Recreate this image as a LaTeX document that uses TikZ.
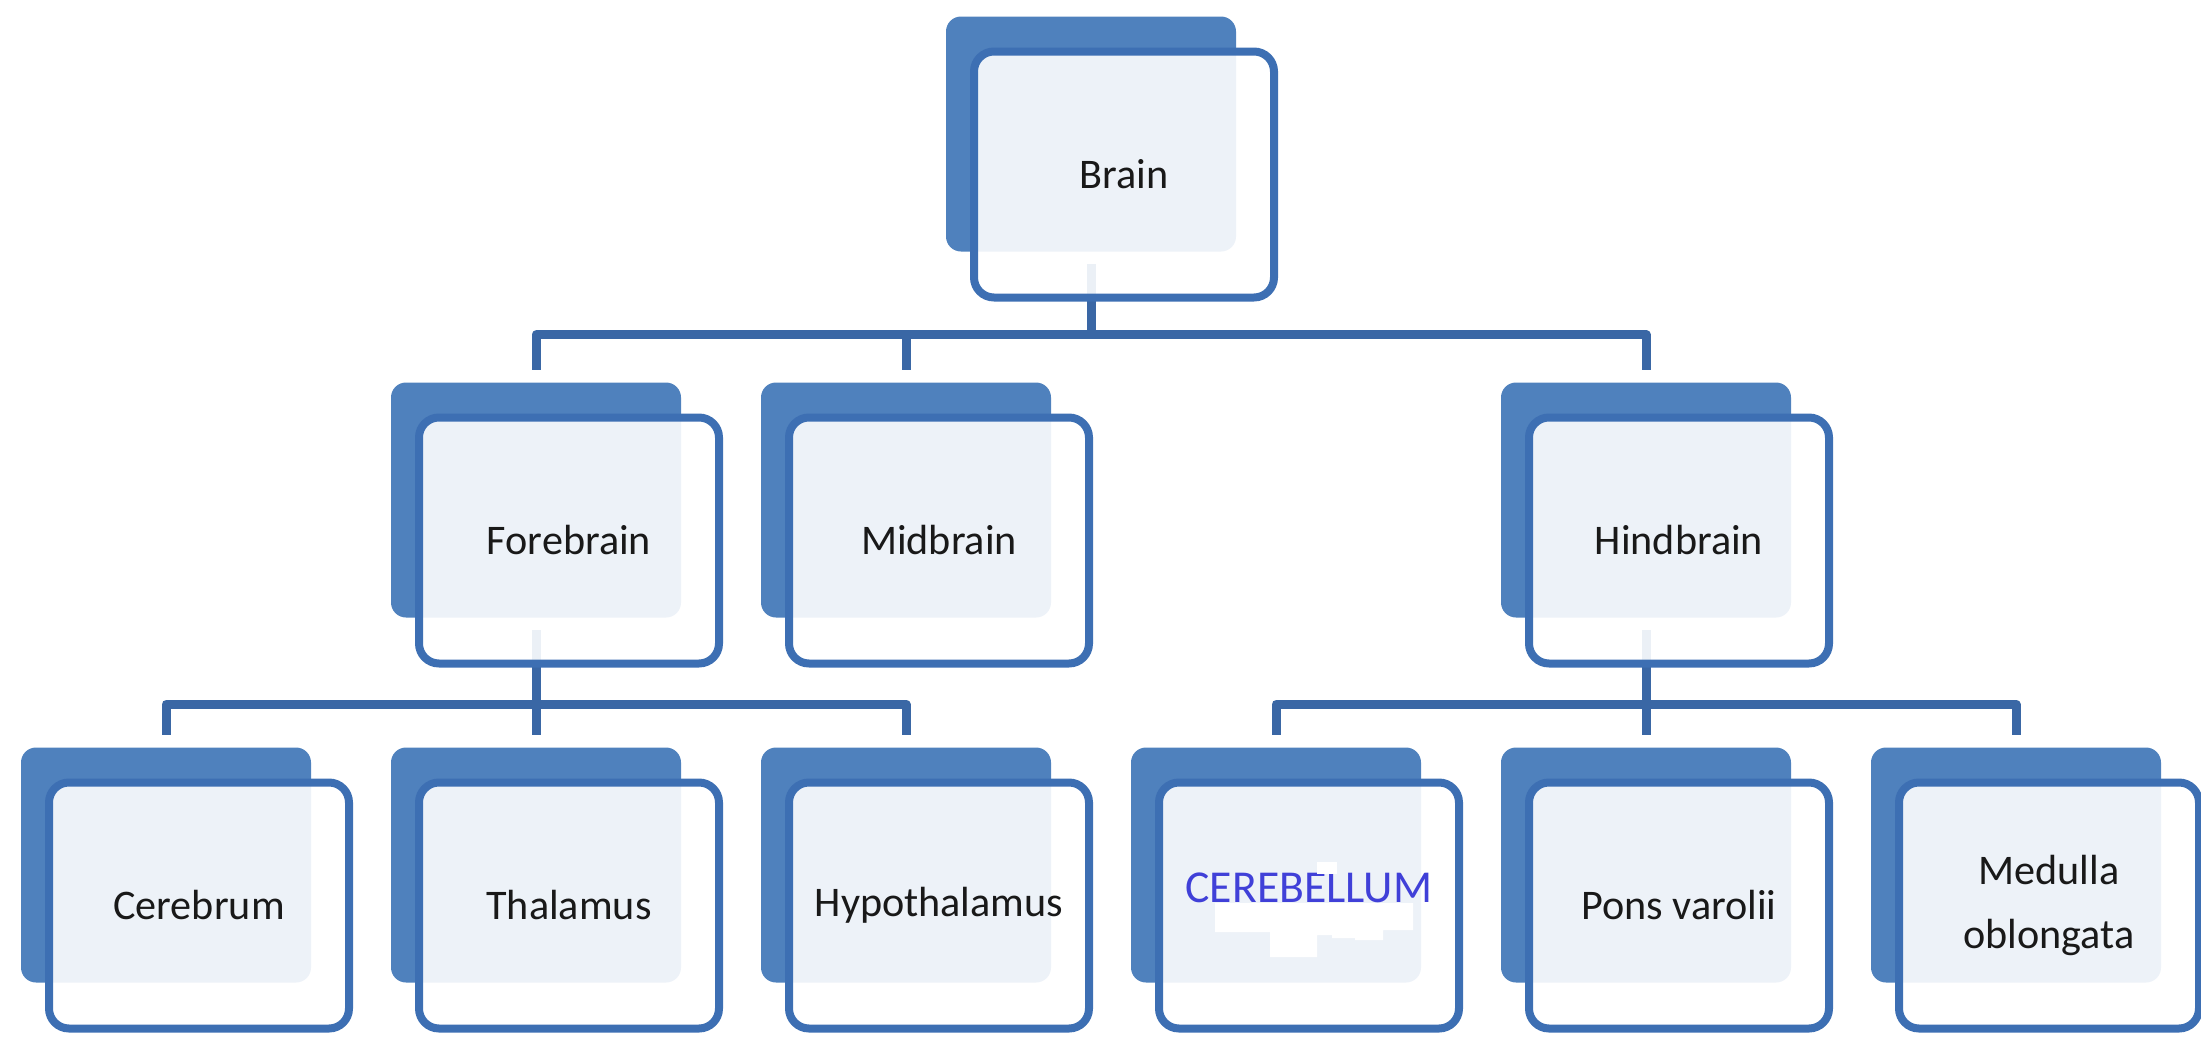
\documentclass[tikz,border=0pt]{standalone}
\usepackage{fontspec}
\setmainfont{Carlito}
\usetikzlibrary{positioning}
\definecolor{boxblue}{HTML}{4F81BD}
\definecolor{lineblue}{HTML}{3D6FB3}
\definecolor{linkblue}{HTML}{3A67A5}
\definecolor{cerebblue}{HTML}{4040D8}

\begin{document}
\begin{tikzpicture}
    \tikzstyle{back}=[rectangle, rounded corners=0.15cm, fill=boxblue, minimum width=2.9cm, minimum height=2.35cm, inner sep=0pt]
    \tikzstyle{front}=[rectangle, rounded corners=0.2cm, draw=lineblue, line width=0.08cm, fill=white, fill opacity=0.9, text opacity=1, minimum width=3cm, minimum height=2.46cm, inner sep=0pt, align=center, text=black!90, font=\fontsize{12}{18}\selectfont]
    \tikzstyle{link}=[linkblue, line width=0.09cm, line join=round]

    \useasboundingbox (0,0) rectangle (22.01,10.38);

    \node[back] (brain-b) at (10.91,9.04) {};
    \node[back] (fore-b) at (5.36,5.38) {};
    \node[back] (mid-b) at (9.06,5.38) {};
    \node[back] (hind-b) at (16.46,5.38) {};
    \node[back] (cerebrum-b) at (1.66,1.73) {};
    \node[back] (thal-b) at (5.36,1.73) {};
    \node[back] (hypo-b) at (9.06,1.73) {};
    \node[back] (cerebel-b) at (12.76,1.73) {};
    \node[back] (pons-b) at (16.46,1.73) {};
    \node[back] (medulla-b) at (20.16,1.73) {};

    \draw[link] ([yshift=-1.2mm]brain-b.south) -- ++(0,-0.725);
    \draw[link] ([yshift=1.2mm]fore-b.north) -- ++(0,0.35) -| ([yshift=1.2mm]hind-b.north);
    \draw[link] ([yshift=1.2mm]mid-b.north) -- ++(0,0.35);
    \draw[link] ([yshift=-1.2mm]fore-b.south) -- ([yshift=1.2mm]thal-b.north);
    \draw[link] ([yshift=1.2mm]cerebrum-b.north) -- ++(0,0.305) -| ([yshift=1.2mm]hypo-b.north);
    \draw[link] ([yshift=-1.2mm]hind-b.south) -- ([yshift=1.2mm]pons-b.north);
    \draw[link] ([yshift=1.2mm]cerebel-b.north) -- ++(0,0.305) -| ([yshift=1.2mm]medulla-b.north);

    \node[front] (brain) at ([shift={(0.33,-0.405)}]brain-b) {Brain};
    \node[front] (fore) at ([shift={(0.33,-0.405)}]fore-b) {Forebrain};
    \node[front] (mid) at ([shift={(0.33,-0.405)}]mid-b) {Midbrain};
    \node[front] (hind) at ([shift={(0.33,-0.405)}]hind-b) {Hindbrain};
    \node[front] (cerebrum) at ([shift={(0.33,-0.405)}]cerebrum-b) {Cerebrum};
    \node[front] (thal) at ([shift={(0.33,-0.405)}]thal-b) {Thalamus};
    \node[front] (hypo) at ([shift={(0.33,-0.405)}]hypo-b) {Hypothalamus};
    \node[front, text=cerebblue, font=\fontsize{13}{18}\selectfont] (cerebel) at ([shift={(0.33,-0.405)}]cerebel-b) {\raisebox{0.35cm}{CEREBELLUM}};
    \node[front] (pons) at ([shift={(0.33,-0.405)}]pons-b) {Pons varolii};
    \node[front] (medulla) at ([shift={(0.33,-0.405)}]medulla-b) {Medulla\\oblongata};

    \fill[white] (12.15,1.35) -- (14.13,1.35) -- (14.13,1.08) -- (13.83,1.08) -- (13.83,0.98) -- (13.55,0.98) -- (13.55,1.00) -- (13.32,1.00) -- (13.32,1.03) -- (13.17,1.03) -- (13.17,0.81) -- (12.70,0.81) -- (12.70,1.06) -- (12.15,1.06) -- cycle;
    \fill[white] (13.17,1.64) rectangle (13.37,1.76);
\end{tikzpicture}
\end{document}
